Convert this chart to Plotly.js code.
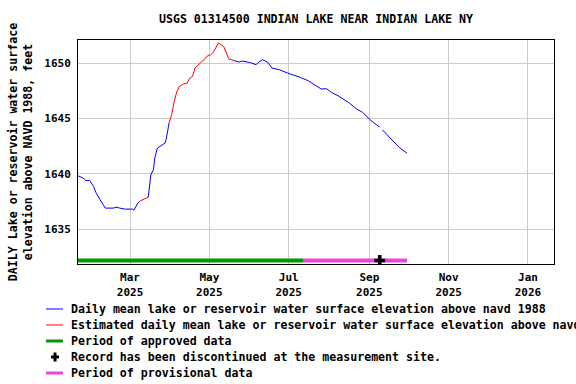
<!DOCTYPE html>
<html>
<head>
<meta charset="utf-8">
<script src="https://cdn.plot.ly/plotly-3.0.1.min.js"></script>
<style>html,body{margin:0;padding:0;background:#fff;}#chart{width:576px;height:384px;}</style>
</head>
<body>
<div id="chart"></div>
<script>
// ---- data ----
const dates = ["2025-01-20","2025-01-24","2025-01-26","2025-01-29","2025-02-01","2025-02-03","2025-02-06","2025-02-10","2025-02-16","2025-02-19","2025-02-21","2025-02-25","2025-03-03","2025-03-04","2025-03-07","2025-03-09","2025-03-10","2025-03-12","2025-03-15","2025-03-16","2025-03-17","2025-03-19","2025-03-20","2025-03-22","2025-03-25","2025-03-28","2025-03-29","2025-03-31","2025-04-01","2025-04-02","2025-04-04","2025-04-06","2025-04-08","2025-04-11","2025-04-14","2025-04-16","2025-04-18","2025-04-20","2025-04-24","2025-04-27","2025-04-29","2025-05-02","2025-05-04","2025-05-06","2025-05-08","2025-05-12","2025-05-14","2025-05-16","2025-05-18","2025-05-20","2025-05-24","2025-05-26","2025-06-01","2025-06-06","2025-06-08","2025-06-11","2025-06-15","2025-06-18","2025-06-24","2025-06-30","2025-07-02","2025-07-10","2025-07-16","2025-07-22","2025-07-26","2025-07-30","2025-08-03","2025-08-08","2025-08-12","2025-08-16","2025-08-22","2025-08-27","2025-09-01","2025-09-04","2025-09-09","2025-09-10","2025-09-11","2025-09-16","2025-09-20","2025-09-24","2025-09-30"];
const elevation = [1639.81,1639.60,1639.39,1639.39,1638.84,1638.24,1637.64,1636.89,1636.89,1636.98,1636.89,1636.80,1636.80,1636.70,1637.34,1637.55,1637.61,1637.70,1637.88,1638.84,1639.90,1640.35,1641.41,1642.31,1642.52,1642.77,1643.22,1644.58,1644.90,1645.33,1646.53,1647.43,1647.88,1648.10,1648.19,1648.64,1648.79,1649.55,1650.00,1650.30,1650.60,1650.75,1650.96,1651.45,1651.81,1651.50,1650.96,1650.36,1650.30,1650.21,1650.09,1650.18,1650.05,1649.85,1650.09,1650.30,1650.06,1649.55,1649.39,1649.10,1649.03,1648.70,1648.40,1647.95,1647.65,1647.68,1647.34,1647.04,1646.77,1646.44,1645.87,1645.53,1644.94,1644.63,1644.21,null,1643.97,1643.36,1642.91,1642.37,1641.86];
const estimated = [0,0,0,0,0,0,0,0,0,0,0,0,0,0,0,0,1,1,0,0,0,0,0,0,0,0,0,0,1,1,1,1,1,1,1,1,1,1,1,1,1,1,1,1,1,1,1,1,1,0,0,0,0,0,0,0,0,0,0,0,0,0,0,0,0,0,0,0,0,0,0,0,0,0,0,0,0,0,0,0,0];
const approvedPeriod = ["2025-01-20","2025-07-12"];
const provisionalPeriod = ["2025-07-12","2025-09-30"];
const periodBarLevel = 1632.16;
const discontinuedDate = ["2025-09-09"];
const legendLabels = [
  "Daily mean lake or reservoir water surface elevation above navd 1988",
  "Estimated daily mean lake or reservoir water surface elevation above navd 1988",
  "Period of approved data",
  "Record has been discontinued at the measurement site.",
  "Period of provisional data"
];
const yTicks = [1635,1640,1645,1650];

// ---- build series ----
const blueY = elevation.map((v,i)=> estimated[i] ? null : v);
const redY = elevation.map((v,i)=> (estimated[i] || estimated[i-1] || estimated[i+1]) ? v : null);

const FONT = "DejaVu Sans Mono, monospace";
const W = 576, H = 384, ML = 78, MR = 22, MT = 40, MB = 120;
const PW = W - ML - MR, PH = H - MT - MB;
const px = x => (x - ML) / PW;
const py = y => (H - MB - y) / PH;

const traces = [
  {x: dates, y: blueY, mode: "lines", line: {color: "#0000ff", width: 1}, hoverinfo: "skip", showlegend: false},
  {x: dates, y: redY, mode: "lines", line: {color: "#ff0000", width: 1}, hoverinfo: "skip", showlegend: false},
  {x: approvedPeriod, y: approvedPeriod.map(()=>periodBarLevel), mode: "lines", line: {color: "#009900", width: 4}, showlegend: false},
  {x: provisionalPeriod, y: provisionalPeriod.map(()=>periodBarLevel), mode: "lines", line: {color: "#ee44dd", width: 4}, showlegend: false},
  {x: discontinuedDate, y: discontinuedDate.map(()=>periodBarLevel), mode: "markers", marker: {symbol: "cross", color: "#000", size: 9}, showlegend: false}
];

// manual legend (rows 16px apart, like the reference)
const rowY = [309, 325, 341, 357, 373];
const legendStyles = [
  {type: "line", color: "#0000ff", width: 1},
  {type: "line", color: "#ff0000", width: 1},
  {type: "line", color: "#009900", width: 3},
  {type: "cross"},
  {type: "line", color: "#ee44dd", width: 3}
];
const shapes = [];
const annotations = [];
legendLabels.forEach((lab, i) => {
  const s = legendStyles[i];
  const y = rowY[i];
  if (s.type === "line") {
    shapes.push({type: "line", xref: "paper", yref: "paper", x0: px(46), x1: px(63), y0: py(y), y1: py(y), line: {color: s.color, width: s.width}});
  } else {
    const c = 55;
    const path = `M${px(c-1.5)},${py(y-4.5)} L${px(c+1.5)},${py(y-4.5)} L${px(c+1.5)},${py(y-1.5)} L${px(c+4)},${py(y-1.5)} L${px(c+4)},${py(y+1.5)} L${px(c+1.5)},${py(y+1.5)} L${px(c+1.5)},${py(y+4.5)} L${px(c-1.5)},${py(y+4.5)} L${px(c-1.5)},${py(y+1.5)} L${px(c-4)},${py(y+1.5)} L${px(c-4)},${py(y-1.5)} L${px(c-1.5)},${py(y-1.5)} Z`;
    shapes.push({type: "path", xref: "paper", yref: "paper", path: path, fillcolor: "#000", line: {width: 0}});
  }
  annotations.push({xref: "paper", yref: "paper", x: px(69), y: py(y), xanchor: "left", yanchor: "middle", showarrow: false, text: lab, font: {family: FONT, size: 11.6, color: "#000", weight: "bold"}});
});

const layout = {
  width: W, height: H,
  margin: {l: ML, r: MR, t: MT, b: MB, pad: 0},
  paper_bgcolor: "#fff", plot_bgcolor: "#fff",
  showlegend: false,
  title: {text: "USGS 01314500 INDIAN LAKE NEAR INDIAN LAKE NY", x: 0.5, xref: "paper", xanchor: "center", y: 1 - 19/H, yref: "container", yanchor: "middle", font: {family: FONT, size: 11.6, color: "#000", weight: "bold"}},
  xaxis: {
    type: "date", range: ["2025-01-20", "2026-01-21"],
    tick0: "2025-01-01", dtick: "M2", tickformat: "%b<br>%Y",
    showgrid: true, gridcolor: "#cccccc", gridwidth: 1,
    showline: true, linecolor: "#000", linewidth: 1, mirror: true,
    ticks: "", zeroline: false, ticklabelstandoff: 3,
    tickfont: {family: FONT, size: 11, color: "#000", weight: "bold"}
  },
  yaxis: {
    range: [1631.84, 1652.08], tickvals: yTicks, ticktext: yTicks.map(String),
    showgrid: true, gridcolor: "#cccccc", gridwidth: 1,
    showline: true, linecolor: "#000", linewidth: 1, mirror: true,
    ticks: "", zeroline: false, ticklabelstandoff: 4,
    tickfont: {family: FONT, size: 11, color: "#000", weight: "bold"},
    title: {text: "DAILY Lake or reservoir water surface<br>elevation above NAVD 1988, feet", standoff: 9, font: {family: FONT, size: 11.6, color: "#000", weight: "bold"}}
  },
  shapes: shapes,
  annotations: annotations
};

Plotly.newPlot("chart", traces, layout, {staticPlot: true, displayModeBar: false});
</script>
</body>
</html>
